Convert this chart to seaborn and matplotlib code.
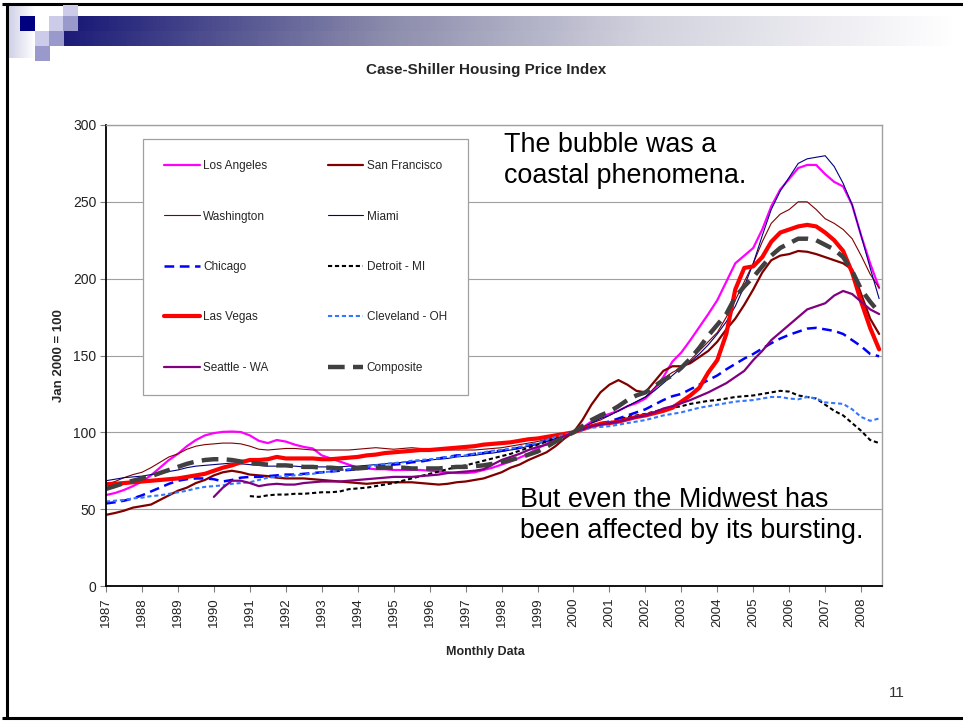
import numpy as np
import pandas as pd
import matplotlib
matplotlib.use("Agg")
import matplotlib.pyplot as plt
import seaborn as sns
from matplotlib.colors import LinearSegmentedColormap
from matplotlib.patches import Rectangle

# ────────────────────────────────────────────────────────────────
# DATA  (quarterly readings, Jan 1987 .. Jul 2008, Jan 2000 = 100)
# ────────────────────────────────────────────────────────────────
quarters = np.arange(1987.0, 2008.51, 0.25)
year_ticks = list(range(1987, 2009))
nan = np.nan

los_angeles = [59.2, 60.5, 62.5, 65, 68, 72, 77, 82, 86, 91, 95, 98,
               99.5, 100.3, 100.5, 100.2, 98, 94.5, 93, 95, 94, 92, 90.5, 89.5,
               85, 83, 81, 79, 77, 76.5, 76, 76, 75.5, 75.5, 75.5, 75.5,
               75, 74.5, 74, 73.5, 73.5, 74, 75.5, 77, 79, 81, 83.5, 86,
               89.5, 92.5, 95.5, 98, 100, 103, 107, 110, 112, 114, 117, 119,
               122, 128, 136, 146, 152, 160, 168.5, 177, 186, 198, 210, 215,
               220, 232, 247, 258, 265, 272, 274, 274, 268, 263, 260, 248,
               228, 210, 194]
san_francisco = [46.3, 47.5, 49, 51, 52, 53, 56, 59, 62, 64, 67, 69,
                 72, 74, 75, 74, 72.5, 72, 71.5, 70.5, 70, 70, 70, 69.5,
                 69, 68.5, 68, 67.5, 67, 66.5, 67, 67.5, 67.5, 67.5, 67.5, 67,
                 66.5, 66, 66.5, 67.5, 68, 69, 70, 72, 74, 77, 79, 82,
                 84.5, 87, 91, 96, 100, 108, 118, 126, 131, 134, 131, 127,
                 126, 133, 140, 143, 143, 145, 149, 153, 159, 167, 174, 183,
                 193, 204, 212, 215, 216, 218, 217.5, 216, 214, 212, 210, 206,
                 190, 174, 164]
washington = [66, 68, 70.5, 72.5, 74, 77, 80.5, 84, 86, 89, 91, 92,
              92.5, 93, 93, 92.5, 91, 89, 88.5, 89, 89.5, 89.5, 89, 88.5,
              88.5, 88.5, 88.5, 88.5, 89, 89.5, 90, 89.5, 89, 89.5, 90, 89.5,
              89, 89, 88.5, 88.5, 88.5, 88.5, 89, 89.5, 90, 91, 92, 93,
              94, 95.5, 97, 98.5, 100, 103, 106, 108, 111, 114, 117, 120,
              123, 129, 135, 139, 142, 147, 153, 159, 165, 175, 186, 198,
              210, 224, 236, 242, 245, 250, 250, 245, 239, 236, 232, 226,
              215, 203, 194]
miami = [68.5, 69.5, 70.5, 71, 71.5, 72.5, 73.5, 74.5, 75.5, 77, 78, 78.5,
         79, 79.5, 80, 79.5, 79, 78.5, 78, 78, 78, 78, 77.5, 77.5,
         77.5, 77.5, 77.5, 78, 78, 78.5, 79, 79.5, 80, 80.5, 81, 81.5,
         82, 82.5, 83, 84, 84.5, 85, 86, 86.5, 87.5, 88.5, 89.5, 91,
         92.5, 94, 96, 98, 100, 103, 106, 109, 111, 114, 117, 120,
         123, 127, 132, 137, 142, 146, 151, 157, 164, 172, 182, 195,
         210, 228, 245, 257, 266, 275, 278, 279, 280, 273, 262, 248,
         228, 207, 187]
chicago = [53.7, 54.5, 55.5, 57, 59, 61.5, 64, 66.5, 68.5, 69.5, 70, 70,
           69.5, 68, 69, 70.5, 71, 71, 71.5, 72, 72.5, 72.5, 73, 73.5,
           74, 74.5, 75, 75.5, 76, 77, 77.5, 78.5, 79, 79.5, 80.5, 81,
           82, 83, 84, 85, 85, 86, 86.5, 87.5, 88, 89, 90, 91.5,
           92.5, 94.5, 96.5, 98.5, 100, 102, 104, 106, 107, 109, 111, 113,
           115, 118, 121, 123.5, 125, 128, 131, 134, 137, 141, 144.5, 148,
           151, 154.5, 158, 161, 163.5, 165.5, 167.5, 168, 167, 166, 164, 160,
           156, 151, 149.5]
detroit = [nan] * 16 + [
           58.5, 58, 59, 59.5, 59.5, 60, 60, 60.5,
           61, 61, 61.5, 63, 63.5, 64, 65, 66, 67, 68.5, 70, 71.5,
           73, 74.5, 76, 77.5, 78.5, 80, 81.5, 83, 84.5, 86, 88, 90,
           92, 94, 96.5, 98.5, 100, 102, 104, 105.5, 106.5, 108, 110, 111,
           112, 113.5, 115, 116, 117, 118.5, 119.5, 120.5, 121, 122, 123, 123.5,
           124, 125, 126, 127, 126.5, 124, 123, 122, 118, 114, 111, 106,
           101, 95, 93]
las_vegas = [66.3, 66.5, 67, 67.5, 68, 68.5, 69, 69.5, 70, 71, 72, 73,
             75, 77, 78.5, 80.5, 82, 82, 82.5, 84, 83, 83, 83, 83,
             82.5, 82.5, 83, 83.5, 84, 85, 85.5, 86.5, 87, 87.5, 88, 88.5,
             88.5, 89, 89.5, 90, 90.5, 91, 92, 92.5, 93, 93.5, 94.5, 95.5,
             96, 97, 98, 99, 100, 102, 104, 105.5, 106, 107, 108.5, 110,
             111, 112.5, 114, 116, 120, 124, 129, 139, 147, 164, 193, 207,
             208, 214, 224, 230, 232, 234, 235, 234, 230, 225, 218, 204,
             185, 168, 154]
cleveland = [55, 55.5, 56, 57, 57.5, 58.5, 59, 60, 61, 62, 63.5, 64.5,
             65, 65.5, 66.5, 67, 67.5, 69, 70.5, 71, 71.5, 72, 72.5, 73,
             74, 74.5, 75.5, 76, 77, 77.5, 78.5, 79.5, 80, 80.5, 81.5, 82,
             82.5, 83, 84, 84.5, 85, 86, 87, 88, 88.5, 89.5, 90.5, 92,
             93, 95, 97, 98.5, 100, 101.5, 103, 103.5, 104, 105, 106, 107,
             108, 109.5, 111, 112, 113, 114.5, 116, 117, 118, 119, 120, 120.5,
             121, 122, 123, 123, 122, 121.5, 123, 122, 119.5, 119, 118.5, 115,
             110, 107.5, 109]
seattle = [nan] * 12 + [
           58, 64, 68.5, 68.5, 67, 65, 66, 66.5, 66, 66, 67, 67.5,
           68, 68, 68, 68.5, 69, 69.5, 70, 70.5, 71, 71, 71, 71.5,
           72, 72.5, 73.5, 74, 74.5, 75, 76, 79, 82, 84, 86, 88.5,
           90.5, 92, 95, 97.5, 100, 102, 104, 105, 106, 107, 108.5, 110,
           111, 113, 115.5, 117, 119, 121, 123.5, 126, 129, 132, 136, 140,
           147, 153, 160, 165, 170, 175, 180, 182, 184, 189, 192, 190,
           185, 180, 177]
composite = [63.2, 65, 67, 68.5, 70, 71.5, 73.5, 75.5, 77.5, 79.5, 81, 82,
             82.5, 82.5, 82, 81, 80, 79.5, 79, 78.5, 78.5, 78, 77.5, 77.5,
             77, 77, 76.5, 76.5, 76.5, 77, 77, 77, 77, 77, 76.5, 76.5,
             76.5, 76.5, 77, 77.5, 77.5, 78, 78.5, 79.5, 80.5, 82, 83.5, 85.5,
             87.5, 90.5, 94, 97, 100, 104, 108, 111, 113.5, 117, 121, 124,
             126, 130, 134, 137, 142, 148, 155, 163, 170, 177, 188, 195,
             201, 208, 215, 220, 223, 226, 226, 225, 222, 219, 214, 205,
             193, 185, 178]

# name, values, colour, line width, dash pattern (None = solid)
series = [
    ("Los Angeles",   los_angeles,   "#ff00ff", 1.6, None),
    ("San Francisco", san_francisco, "#800000", 1.6, None),
    ("Washington",    washington,    "#800000", 0.8, None),
    ("Miami",         miami,         "#000080", 0.8, None),
    ("Chicago",       chicago,       "#0000ff", 1.8, (7, 4)),
    ("Detroit - MI",  detroit,       "#000000", 1.5, (3, 2)),
    ("Las Vegas",     las_vegas,     "#ff0000", 3.0, None),
    ("Cleveland - OH", cleveland,    "#3377ff", 1.5, (3, 2)),
    ("Seattle - WA",  seattle,       "#800080", 1.6, None),
    ("Composite",     composite,     "#404040", 3.2, (12, 6)),
]

W, H = 963, 721

# ────────────────────────────────────────────────────────────────
# FIGURE + SLIDE DECORATION
# ────────────────────────────────────────────────────────────────
sns.set_theme(style="white")
plt.rcParams["font.family"] = ["Liberation Sans", "DejaVu Sans"]
plt.rcParams["lines.scale_dashes"] = False

fig = plt.figure(figsize=(W / 100, H / 100), dpi=100)
fig.patch.set_facecolor("white")

bg = fig.add_axes([0, 0, 1, 1])
bg.set_xlim(0, W)
bg.set_ylim(H, 0)
bg.axis("off")
bg.set_zorder(-1)

# slide frame
bg.plot([2, W], [3.5, 3.5], color="black", lw=2.2, solid_capstyle="butt")
bg.plot([7, 7], [3.5, 718], color="black", lw=2.2, solid_capstyle="butt")
bg.plot([2, W], [718, 718], color="black", lw=2.2, solid_capstyle="butt")

# header gradient bar
bar_cmap = LinearSegmentedColormap.from_list(
    "bar", [(0, "#1c1c78"), (0.35, "#8a8aab"), (0.65, "#d2d2de"), (1, "#ffffff")])
grad = np.linspace(0, 1, 256).reshape(1, -1)
bg.imshow(grad, cmap=bar_cmap, aspect="auto", extent=(78, 955, 31, 16), zorder=1)
bg.imshow(grad, cmap=bar_cmap, aspect="auto", extent=(63, 955, 46, 31), zorder=1)
side_cmap = LinearSegmentedColormap.from_list("side", ["#cfcfe8", "#ffffff"])
bg.imshow(grad, cmap=side_cmap, aspect="auto", extent=(8, 35, 58, 5), zorder=1)

light, mid, navy = "#ccccea", "#9999cc", "#000080"
squares = [(20, 16, navy), (49, 16, light), (63, 5, light), (63, 16, mid),
           (35, 31, light), (49, 31, mid), (35, 46, mid)]
for sx, sy, sc in squares:
    bg.add_patch(Rectangle((sx, sy), 14.5, 14.5, facecolor=sc, edgecolor="none", zorder=2))

# ────────────────────────────────────────────────────────────────
# CHART
# ────────────────────────────────────────────────────────────────
ax = fig.add_axes([106 / W, 1 - 586 / H, 776 / W, 461 / H])
ax.set_facecolor("white")

for name, vals, color, lw, dash in series:
    sns.lineplot(x=quarters, y=np.array(vals, dtype=float), ax=ax, color=color,
                 linewidth=lw, label=name, errorbar=None)
    if dash is not None:
        ax.lines[-1].set_dashes(dash)

ax.set_xlim(1987.0, 2008.58)
ax.set_ylim(0, 300)
ax.set_yticks(range(0, 301, 50))
ax.set_xticks(year_ticks)
ax.set_xticklabels([str(y) for y in year_ticks], rotation=90, fontsize=9.5)
ax.tick_params(axis="y", labelsize=10, length=4, width=0.8, color="#808080",
               direction="out", pad=3, left=True, labelcolor="#222222")
ax.tick_params(axis="x", length=4, width=0.8, color="#808080",
               direction="out", pad=4, bottom=True, labelcolor="#222222")
ax.yaxis.grid(True, color="#a0a0a0", lw=0.8)
ax.xaxis.grid(False)

for side in ["left", "bottom"]:
    ax.spines[side].set_color("black")
    ax.spines[side].set_linewidth(1.3)
for side in ["top", "right"]:
    ax.spines[side].set_color("#a0a0a0")
    ax.spines[side].set_linewidth(1.0)

ax.set_ylabel("Jan 2000 = 100", fontsize=9.5, fontweight="bold", labelpad=6)
ax.set_xlabel("Monthly Data", fontsize=9, fontweight="bold")
ax.xaxis.set_label_coords((485 - 106) / 776, (586 - 646) / 461)

# legend, filled row-wise like the original
handles, labels = ax.get_legend_handles_labels()
order = [0, 2, 4, 6, 8, 1, 3, 5, 7, 9]
leg = ax.legend([handles[i] for i in order], [labels[i] for i in order],
                ncol=2, loc="upper left",
                bbox_to_anchor=((143 - 106) / 776, (586 - 139) / 461),
                frameon=True, fancybox=False, framealpha=1, edgecolor="#a0a0a0",
                fontsize=8.5, handlelength=3.0, handletextpad=0.3,
                labelspacing=3.25, columnspacing=5.0, borderpad=1.8,
                borderaxespad=0)
leg.get_frame().set_linewidth(0.9)

# ────────────────────────────────────────────────────────────────
# TEXTS
# ────────────────────────────────────────────────────────────────
fig.text(486 / W, 1 - 70 / H, "Case-Shiller Housing Price Index",
         ha="center", va="center", fontsize=11, fontweight="bold")

notes = [(504, 152, "The bubble was a"), (504, 183, "coastal phenomena."),
         (520, 507, "But even the Midwest has"), (520, 538, "been affected by its bursting.")]
for nx, ny, txt in notes:
    fig.text(nx / W, 1 - ny / H, txt, ha="left", va="baseline", fontsize=19.4,
             color="black")

fig.text(897 / W, 1 - 693 / H, "11", ha="center", va="center", fontsize=11,
         color="#333333")

fig.savefig("out.png", dpi=100)
